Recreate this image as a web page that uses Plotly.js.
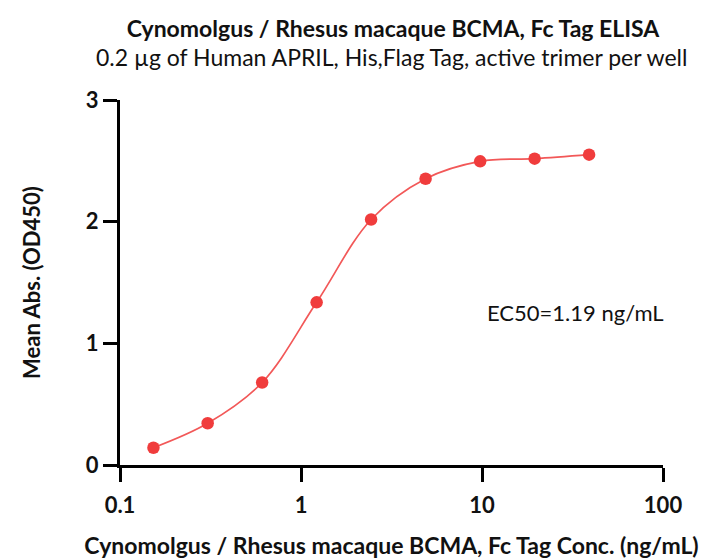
<!DOCTYPE html>
<html>
<head>
<meta charset="utf-8">
<script src="https://cdn.plot.ly/plotly-3.0.1.min.js"></script>
<style>html,body{margin:0;padding:0;background:#fff;}#chart{width:711px;height:559px;}</style>
</head>
<body>
<div id="chart"></div>
<script>
// Data
const concentrations = [0.153, 0.305, 0.61, 1.22, 2.44, 4.88, 9.77, 19.53, 39.06];
const meanAbs = [0.142, 0.343, 0.678, 1.337, 2.018, 2.353, 2.496, 2.518, 2.551];
const xTickVals = [0.1, 1, 10, 100];
const xTickText = ['0.1', '1', '10', '100'];
const yTickVals = [0, 1, 2, 3];
const yTickText = ['0', '1', '2', '3'];
const chartTitle = 'Cynomolgus / Rhesus macaque BCMA, Fc Tag ELISA';
const chartSubtitle = '0.2 µg of Human APRIL, His,Flag Tag, active trimer per well';
const xTitle = 'Cynomolgus / Rhesus macaque BCMA, Fc Tag Conc. (ng/mL)';
const yTitle = 'Mean Abs. (OD450)';
const ec50Label = 'EC50=1.19 ng/mL';

const FONT = 'Lato, "Open Sans", sans-serif';
const TXT = '#111';
const bold = s => '<b>' + s + '</b>';

const traces = [
  {
    x: concentrations, y: meanAbs, type: 'scatter', mode: 'lines',
    line: {color: '#f25858', width: 1.7, shape: 'spline', smoothing: 1.0},
    hoverinfo: 'skip', showlegend: false
  },
  {
    x: concentrations, y: meanAbs, type: 'scatter', mode: 'markers',
    marker: {color: '#f03c3c', size: 12.5},
    showlegend: false
  }
];

const layout = {
  width: 711, height: 559,
  margin: {l: 120, r: 48, t: 100, b: 94},
  paper_bgcolor: '#fff', plot_bgcolor: '#fff',
  font: {family: FONT, color: TXT},
  title: {
    text: bold(chartTitle),
    font: {family: FONT, size: 23, color: TXT},
    x: 393/711, xanchor: 'center', xref: 'container',
    y: 1 - 29/559, yanchor: 'middle', yref: 'container'
  },
  xaxis: {
    type: 'log', range: [-1, 2],
    tickmode: 'array', tickvals: xTickVals, ticktext: xTickText.map(bold),
    ticks: 'outside', ticklen: 14, tickwidth: 3, tickcolor: '#000',
    ticklabelstandoff: 5,
    showline: true, linewidth: 3, linecolor: '#000',
    showgrid: false, zeroline: false,
    tickfont: {family: FONT, size: 22, color: TXT},
    title: {text: bold(xTitle), font: {family: FONT, size: 23, color: TXT}, standoff: 26}
  },
  yaxis: {
    range: [0, 3],
    tickmode: 'array', tickvals: yTickVals, ticktext: yTickText.map(bold),
    ticks: 'outside', ticklen: 14, tickwidth: 3, tickcolor: '#000',
    showline: true, linewidth: 3, linecolor: '#000',
    showgrid: false, zeroline: false,
    tickfont: {family: FONT, size: 22, color: TXT},
    title: {text: bold(yTitle), font: {family: FONT, size: 22, color: TXT}, standoff: 40}
  },
  annotations: [
    {
      text: chartSubtitle, xref: 'paper', yref: 'paper',
      x: 0.5, y: 1, xanchor: 'center', yanchor: 'middle',
      yshift: 43, showarrow: false,
      font: {family: FONT, size: 23, color: TXT}
    },
    {
      text: ec50Label, xref: 'x', yref: 'y',
      x: Math.log10(33), y: 1.25, xanchor: 'center', yanchor: 'middle',
      showarrow: false,
      font: {family: FONT, size: 22, color: TXT}
    }
  ]
};

Plotly.newPlot('chart', traces, layout, {displayModeBar: false, staticPlot: true});
</script>
</body>
</html>
